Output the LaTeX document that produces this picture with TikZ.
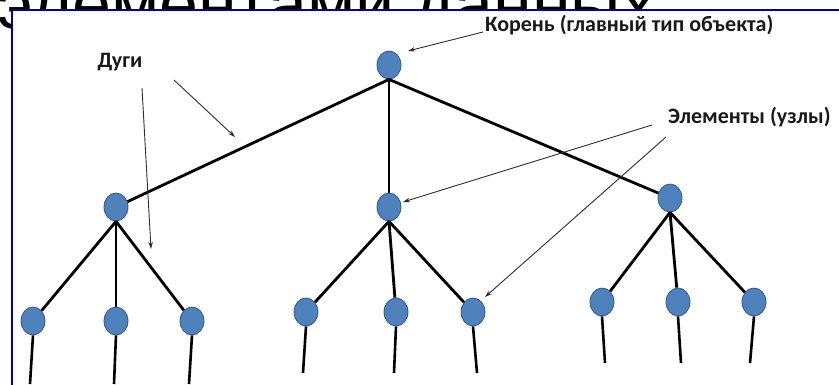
\documentclass[tikz,border=0pt]{standalone}
\usepackage{fontspec}
\setmainfont{Carlito}
\newfontfamily\titlefont{Liberation Sans}
\usetikzlibrary{arrows.meta,shapes.geometric}
\definecolor{frameblue}{RGB}{0,0,160}
\definecolor{nodefill}{RGB}{79,129,189}
\definecolor{nodeedge}{RGB}{52,88,130}
\definecolor{annot}{RGB}{45,45,45}
\definecolor{labtext}{RGB}{25,25,25}
\begin{document}
\begin{tikzpicture}[x=1pt,y=-1pt,
  elem/.style={ellipse,draw=nodeedge,line width=0.8pt,fill=nodefill,minimum width=24pt,minimum height=28pt,inner sep=0pt},
  arc/.style={line width=2.8pt,black},
  stem/.style={line width=2.6pt,black},
  annarrow/.style={annot,line width=0.9pt,-{Stealth[length=7pt,width=4.5pt]}},
  lab/.style={font=\bfseries\fontsize{22}{22}\selectfont,text=labtext,inner sep=0pt}]
\useasboundingbox (0,0) rectangle (839,384);
% partly visible title: only the part outside the frame shows
\begin{scope}
  \clip (0,0) rectangle (839,9) (0,0) rectangle (11,384);
  \node[anchor=base west,font=\titlefont\fontsize{70}{70}\selectfont,text=black,inner sep=0pt] (title) at (-3,28) {элементами данных};
\end{scope}
% frame
\begin{scope}
  \clip (0,0) rectangle (839,384);
  \draw[frameblue,line width=2pt] (12,10) rectangle (870,410);
\end{scope}
% nodes
\node[elem] (r) at (389,65) {};
\node[elem] (a) at (116,207) {};
\node[elem] (b) at (389,207) {};
\node[elem] (c) at (670,198) {};
\node[elem] (a1) at (33,321) {};
\node[elem] (a2) at (116,321) {};
\node[elem] (a3) at (192,321) {};
\node[elem] (b1) at (306,312) {};
\node[elem] (b2) at (396,312) {};
\node[elem] (b3) at (473,312) {};
\node[elem] (c1) at (602,302) {};
\node[elem] (c2) at (678,302) {};
\node[elem] (c3) at (754,302) {};
% stem ends
\coordinate (a1e) at (30,384);
\coordinate (a2e) at (114,384);
\coordinate (a3e) at (189,384);
\coordinate (b1e) at (303,373);
\coordinate (b2e) at (394,373);
\coordinate (b3e) at (477,373);
\coordinate (c1e) at (605,363);
\coordinate (c2e) at (681,363);
\coordinate (c3e) at (750,363);
% arcs
\draw[arc] (r.south) -- (a);
\draw[arc] (r.south) -- (b.north);
\draw[arc] (r.south) -- (c);
\foreach \p/\k in {a/a1,a/a2,a/a3,b/b1,b/b2,b/b3,c/c1,c/c2,c/c3}
  \draw[arc] (\p.south) -- (\k);
\foreach \k in {a1,a2,a3,b1,b2,b3,c1,c2,c3}
  \draw[stem] (\k.south) -- (\k e);
% labels
\node[lab,anchor=west] (lroot) at (485,25) {Корень (главный тип объекта)};
\node[lab] (larcs) at (120,62) {Дуги};
\node[lab,anchor=west] (lelem) at (668,117) {Элементы (узлы)};
% annotation arrows
\coordinate (s1) at (483,32);
\coordinate (t1) at (408,51);
\coordinate (s2) at (142,88);
\coordinate (t2) at (151,249);
\coordinate (s3) at (174,80);
\coordinate (t3) at (235,137);
\coordinate (s4) at (652,125);
\coordinate (t4) at (403,202);
\coordinate (s5) at (666,137);
\coordinate (t5) at (485,297);
\draw[annarrow] (s1) -- (t1);
\draw[annarrow] (s2) -- (t2);
\draw[annarrow] (s3) -- (t3);
\draw[annarrow] (s4) -- (t4);
\draw[annarrow] (s5) -- (t5);
\end{tikzpicture}
\end{document}
